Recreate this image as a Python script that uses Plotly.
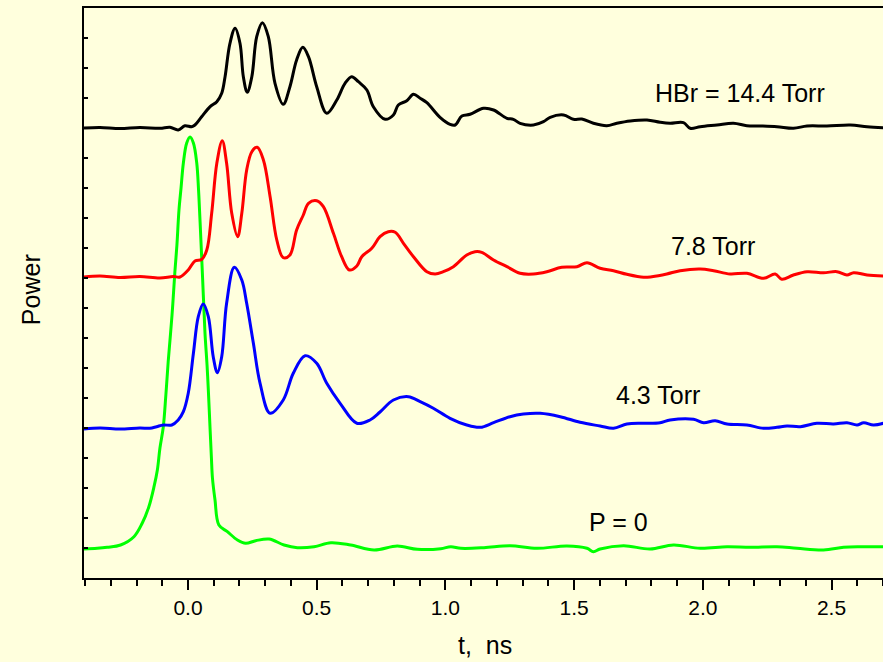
import plotly.graph_objects as go

# time axis, ns
t_black = [-0.404,-0.342,-0.264,-0.187,-0.109,-0.070,-0.038,-0.012,0.014,0.027,
           0.053,0.086,0.112,0.131,0.144,0.163,0.183,0.202,0.215,0.230,
           0.248,0.267,0.289,0.312,0.338,0.370,0.396,0.422,0.446,0.468,
           0.500,0.539,0.578,0.610,0.636,0.662,0.695,0.720,0.766,0.798,
           0.817,0.850,0.876,0.902,0.928,0.979,1.018,1.038,1.064,1.096,
           1.148,1.187,1.239,1.264,1.290,1.342,1.381,1.407,1.459,1.497,
           1.530,1.575,1.627,1.666,1.718,1.783,1.834,1.873,1.925,1.951,
           1.990,2.055,2.119,2.171,2.223,2.288,2.352,2.405,2.482,2.573,
           2.638,2.701]
p_black = [4.500,4.505,4.495,4.505,4.497,4.507,4.480,4.523,4.513,4.530,
           4.613,4.713,4.763,4.847,5.013,5.347,5.497,5.347,5.013,4.857,
           5.013,5.413,5.553,5.413,4.947,4.737,4.913,5.180,5.307,5.213,
           4.913,4.647,4.780,4.947,5.013,4.963,4.880,4.713,4.587,4.630,
           4.730,4.773,4.837,4.797,4.753,4.607,4.537,4.530,4.620,4.637,
           4.697,4.680,4.597,4.587,4.547,4.530,4.563,4.607,4.630,4.587,
           4.590,4.547,4.523,4.547,4.570,4.580,4.557,4.547,4.553,4.497,
           4.513,4.530,4.547,4.523,4.520,4.513,4.497,4.520,4.520,4.530,
           4.513,4.503]

t_red = [-0.404,-0.342,-0.264,-0.187,-0.109,-0.057,-0.031,0.001,0.027,0.053,
         0.073,0.092,0.112,0.133,0.150,0.170,0.193,0.209,0.228,0.248,
         0.269,0.293,0.319,0.345,0.370,0.396,0.422,0.448,0.468,0.500,
         0.526,0.565,0.597,0.627,0.656,0.675,0.714,0.746,0.778,0.805,
         0.837,0.876,0.928,0.960,0.992,1.031,1.083,1.115,1.141,1.187,
         1.239,1.290,1.342,1.394,1.452,1.511,1.550,1.601,1.653,1.705,
         1.770,1.802,1.860,1.912,1.990,2.042,2.106,2.171,2.236,2.281,
         2.307,2.352,2.405,2.469,2.521,2.560,2.586,2.638,2.701]
p_red = [3.010,3.020,3.005,3.015,3.000,3.015,3.010,3.080,3.170,3.185,
         3.280,3.647,4.147,4.373,4.147,3.647,3.413,3.647,4.080,4.263,
         4.307,4.180,3.813,3.380,3.203,3.230,3.480,3.630,3.747,3.773,
         3.713,3.447,3.213,3.080,3.120,3.213,3.297,3.413,3.463,3.457,
         3.347,3.213,3.063,3.040,3.063,3.113,3.230,3.263,3.257,3.180,
         3.113,3.047,3.040,3.063,3.107,3.113,3.153,3.097,3.073,3.037,
         3.007,3.013,3.040,3.073,3.090,3.073,3.040,3.047,2.997,3.040,
         2.987,3.030,3.063,3.053,3.063,3.030,3.053,3.030,3.020]

t_blue = [-0.404,-0.342,-0.264,-0.187,-0.148,-0.122,-0.096,-0.063,-0.038,-0.018,
          0.001,0.021,0.040,0.059,0.079,0.098,0.114,0.131,0.150,0.180,
          0.209,0.228,0.254,0.280,0.319,0.370,0.409,0.455,0.500,0.539,
          0.591,0.656,0.707,0.746,0.798,0.856,0.902,0.953,1.018,1.083,
          1.135,1.187,1.251,1.303,1.368,1.446,1.523,1.601,1.653,1.705,
          1.770,1.834,1.873,1.964,2.003,2.048,2.094,2.171,2.236,2.288,
          2.327,2.379,2.443,2.508,2.560,2.599,2.625,2.663,2.701]
p_blue = [1.490,1.500,1.490,1.500,1.497,1.513,1.530,1.530,1.580,1.663,
          1.847,2.247,2.613,2.740,2.613,2.213,2.053,2.213,2.747,3.107,
          2.980,2.747,2.347,1.947,1.647,1.780,2.047,2.223,2.147,1.947,
          1.747,1.547,1.580,1.660,1.780,1.813,1.763,1.697,1.597,1.530,
          1.507,1.553,1.613,1.640,1.647,1.613,1.557,1.520,1.497,1.540,
          1.547,1.553,1.580,1.587,1.553,1.573,1.540,1.530,1.497,1.507,
          1.520,1.513,1.547,1.540,1.553,1.530,1.553,1.530,1.547]

t_green = [-0.404,-0.353,-0.314,-0.262,-0.210,-0.178,-0.152,-0.132,-0.119,-0.109,
           -0.096,-0.086,-0.077,-0.062,-0.051,-0.043,-0.035,-0.027,-0.018,-0.005,
           0.008,0.021,0.034,0.041,0.047,0.057,0.066,0.074,0.079,0.086,
           0.091,0.095,0.105,0.120,0.153,0.192,0.224,0.263,0.315,0.373,
           0.425,0.490,0.555,0.632,0.723,0.813,0.891,0.982,1.021,1.060,
           1.150,1.251,1.355,1.472,1.550,1.575,1.601,1.692,1.795,1.886,
           1.990,2.094,2.184,2.288,2.366,2.469,2.547,2.612,2.701]
p_green = [0.290,0.297,0.307,0.330,0.413,0.547,0.713,0.913,1.080,1.300,
           1.510,1.830,2.160,2.630,3.060,3.330,3.680,3.900,4.150,4.350,
           4.410,4.350,4.150,3.880,3.560,2.980,2.450,2.130,1.880,1.480,
           1.200,1.000,0.780,0.530,0.463,0.380,0.347,0.373,0.390,0.330,
           0.303,0.313,0.353,0.330,0.280,0.320,0.287,0.293,0.313,0.297,
           0.303,0.323,0.297,0.320,0.297,0.263,0.290,0.323,0.290,0.330,
           0.297,0.313,0.307,0.313,0.297,0.280,0.307,0.313,0.313]

x_ticks = [0.0, 0.5, 1.0, 1.5, 2.0, 2.5]
x_tick_labels = ["0.0", "0.5", "1.0", "1.5", "2.0", "2.5"]

labels = ["HBr = 14.4 Torr", "7.8 Torr", "4.3 Torr", "P = 0"]

BG = "rgb(255,255,221)"
FONT = "Liberation Sans, Arial, sans-serif"

fig = go.Figure()
series = [(t_green, p_green, "#00FF00"),
          (t_blue, p_blue, "#0000FF"),
          (t_red, p_red, "#FF0000"),
          (t_black, p_black, "#000000")]
for tx, py, col in series:
    fig.add_trace(go.Scatter(x=tx, y=py, mode="lines",
                             line=dict(color=col, width=3, shape="spline", smoothing=1.0),
                             showlegend=False, hoverinfo="skip"))

label_pos = [(2.145, 4.85), (2.038, 3.32), (1.827, 1.83), (1.673, 0.56)]
for txt, (ax_, ay_) in zip(labels, label_pos):
    fig.add_annotation(x=ax_, y=ay_, xref="x", yref="y", text=txt, showarrow=False,
                       font=dict(family=FONT, size=25, color="black"),
                       xanchor="center", yanchor="middle")

fig.add_annotation(x=0, y=0.505, xref="paper", yref="paper", text="Power",
                   showarrow=False, textangle=-90, xshift=-53,
                   font=dict(family=FONT, size=25, color="black"),
                   xanchor="center", yanchor="middle")
fig.add_annotation(x=0.502, y=0, xref="paper", yref="paper", text="t,\u00a0\u00a0ns",
                   showarrow=False, yshift=-67,
                   font=dict(family=FONT, size=25, color="black"),
                   xanchor="center", yanchor="middle")

fig.update_layout(
    width=883, height=662,
    margin=dict(l=84, r=0, t=8, b=84),
    paper_bgcolor=BG, plot_bgcolor=BG,
    font=dict(family=FONT, color="black"),
)
fig.update_xaxes(range=[-0.404, 2.70], showgrid=False, zeroline=False,
                 showline=True, linecolor="black", linewidth=2, mirror=True,
                 tickvals=x_ticks, ticktext=x_tick_labels,
                 ticks="outside", ticklen=10, tickwidth=2, tickcolor="black",
                 tickfont=dict(family=FONT, size=21, color="black"),
                 minor=dict(dtick=0.1, tick0=0, ticks="outside", ticklen=6,
                            tickwidth=2, tickcolor="black", showgrid=False))
fig.update_yaxes(range=[0, 5.70], showgrid=False, zeroline=False,
                 showline=True, linecolor="black", linewidth=2,
                 showticklabels=False, tick0=0, dtick=0.3,
                 ticks="inside", ticklen=4, tickwidth=2, tickcolor="black")

fig.write_html("out.html")
